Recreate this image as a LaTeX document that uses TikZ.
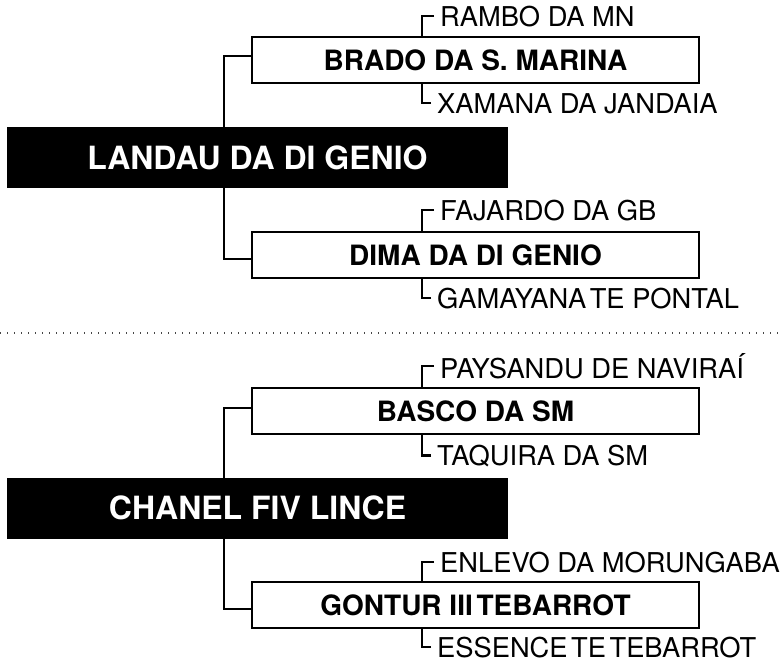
\documentclass[tikz,border=0pt]{standalone}
\usepackage{fontspec}
\setmainfont{TeX Gyre Heros}
\usetikzlibrary{positioning,calc}
\definecolor{lineclr}{RGB}{0,0,0}
\definecolor{rootfill}{RGB}{0,0,0}
\definecolor{sepclr}{RGB}{70,70,70}
\newcommand{\nsp}{\hspace{-4pt} }
\tikzset{
  rootblk/.style={rectangle,fill=rootfill,text=white,
    minimum width=501pt,minimum height=61pt,inner sep=0pt,
    font=\fontsize{32pt}{35pt}\selectfont\bfseries},
  horsebox/.style={rectangle,draw=lineclr,line width=2.3pt,fill=white,
    minimum width=447pt,minimum height=46.6pt,inner sep=0pt,
    font=\fontsize{28pt}{31pt}\selectfont\bfseries},
  parlbl/.style={anchor=base west,inner xsep=6pt,inner ysep=0pt,
    font=\fontsize{27.3pt}{30pt}\selectfont},
  link/.style={draw=lineclr,line width=2.3pt},
  sepline/.style={draw=sepclr,line width=1.5pt,dash pattern=on 1.4pt off 5.6pt},
}
\begin{document}
\begin{tikzpicture}[x=1pt,y=-1pt]
  \useasboundingbox (0,0) rectangle (783,662);
  % first pedigree
  \node[rootblk] (landau) at (257.5,157.5) {LANDAU DA DI GENIO};
  \node[horsebox] (brado) at (475.5,60) {BRADO DA S. MARINA};
  \node[horsebox] (dima)  at (475.5,255) {DIMA DA DI GENIO};
  \node[parlbl] (rambo)    at (434,26)  {RAMBO DA MN};
  \node[parlbl] (xamana)   at (431,113) {XAMANA DA JANDAIA};
  \node[parlbl] (fajardo)  at (434,220) {FAJARDO DA GB};
  \node[parlbl] (gamayana) at (431,308) {GAMAYANA\nsp TE PONTAL};
  \coordinate (trunkA) at (224,157.5);

  \draw[link] ([yshift=4pt]brado.west) -| (trunkA);
  \draw[link] ([yshift=-4pt]dima.west) -| (trunkA);
  \draw[link] (rambo.west) -| ($(brado.north west)+(171,0)$);
  \draw[link] (xamana.west) -| ($(brado.south west)+(171,0)$);
  \draw[link] (fajardo.west) -| ($(dima.north west)+(171,0)$);
  \draw[link] (gamayana.west) -| ($(dima.south west)+(171,0)$);

  % separator
  \coordinate (sepL) at (0,333);
  \coordinate (sepR) at (783,333);
  \draw[sepline] (sepL) -- (sepR);

  % second pedigree
  \node[rootblk] (chanel) at (257.5,508.3) {CHANEL FIV LINCE};
  \node[horsebox] (basco)  at (475.5,411) {BASCO DA SM};
  \node[horsebox] (gontur) at (475.5,605) {GONTUR III\nsp TEBARROT};
  \node[parlbl] (paysandu) at (434,378) {PAYSANDU DE NAVIRAÍ};
  \node[parlbl] (taquira)  at (431,465) {TAQUIRA DA SM};
  \node[parlbl] (enlevo)   at (434,572) {ENLEVO DA MORUNGABA};
  \node[parlbl] (essence)  at (431,657) {ESSENCE\nsp TE\nsp TEBARROT};
  \coordinate (trunkB) at (224,508.3);

  \draw[link] ([yshift=3pt]basco.west) -| (trunkB);
  \draw[link] ([yshift=-4pt]gontur.west) -| (trunkB);
  \draw[link] (paysandu.west) -| ($(basco.north west)+(171,0)$);
  \draw[link] (taquira.west) -| ($(basco.south west)+(171,0)$);
  \draw[link] (enlevo.west) -| ($(gontur.north west)+(171,0)$);
  \draw[link] (essence.west) -| ($(gontur.south west)+(171,0)$);
\end{tikzpicture}
\end{document}
